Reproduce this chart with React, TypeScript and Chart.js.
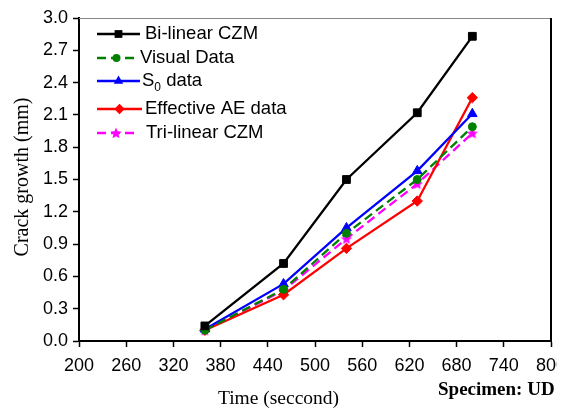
import React, { useEffect, useRef } from "react";
import { Chart, registerables } from "chart.js";

Chart.register(...registerables);

// ---- data ----
const timeSeconds = [360, 460, 540, 630, 700];
const bilinearCZM = [0.14, 0.72, 1.5, 2.12, 2.83];
const visualData = [0.1, 0.48, 1.0, 1.5, 1.99];
const s0Data = [0.11, 0.53, 1.05, 1.58, 2.11];
const effectiveAE = [0.1, 0.43, 0.86, 1.3, 2.26];
const trilinearCZM = [0.1, 0.47, 0.95, 1.46, 1.93];

const xMin = 200;
const xMax = 800;
const xStep = 60;
const yMin = 0;
const yMax = 3;
const yStep = 0.3;

const seriesNames = ["Bi-linear CZM", "Visual Data", "S0 data", "Effective AE data", "Tri-linear CZM"];
const xTitle = "Time (seccond)";
const yTitle = "Crack growth (mm)";
const specimenLabel = "Specimen: UD";

const SANS = "'Liberation Sans', Arial, sans-serif";
const SERIF = "'Liberation Serif', 'Times New Roman', serif";

function makeStar(size: number, color: string) {
  const c = document.createElement("canvas");
  c.width = size;
  c.height = size;
  const ctx = c.getContext("2d")!;
  ctx.beginPath();
  const cx = size / 2;
  const cy = size / 2 + 0.5;
  for (let i = 0; i < 10; i++) {
    const r = i % 2 === 0 ? size / 2 : (size / 2) * 0.45;
    const a = -Math.PI / 2 + (i * Math.PI) / 5;
    ctx.lineTo(cx + r * Math.cos(a), cy + r * Math.sin(a));
  }
  ctx.closePath();
  ctx.fillStyle = color;
  ctx.fill();
  return c;
}

export default function App() {
  const ref = useRef<HTMLCanvasElement | null>(null);

  useEffect(() => {
    if (!ref.current) return;
    const star = makeStar(12, "#ff00ff");
    const styles = [
      { color: "#000000", dash: [] as number[], marker: "rect", radius: 5.5 },
      { color: "#008000", dash: [9, 5], marker: "circle", radius: 4 },
      { color: "#0000ff", dash: [], marker: "triangle", radius: 5.5 },
      { color: "#ff0000", dash: [], marker: "rectRot", radius: 5.2 },
      { color: "#ff00ff", dash: [9, 5], marker: "star", radius: 6 },
    ];
    const values = [bilinearCZM, visualData, s0Data, effectiveAE, trilinearCZM];

    const datasets = values.map((vals, i) => ({
      label: seriesNames[i],
      data: timeSeconds.map((t, j) => ({ x: t, y: vals[j] })),
      borderColor: styles[i].color,
      backgroundColor: styles[i].color,
      borderWidth: 2.3,
      borderDash: styles[i].dash,
      pointStyle: styles[i].marker === "star" ? (star as any) : (styles[i].marker as any),
      pointRadius: styles[i].radius,
      pointBorderWidth: 1,
      pointBorderColor: styles[i].color,
      pointBackgroundColor: styles[i].color,
      tension: 0,
      order: i,
    }));

    const overlay = {
      id: "overlay",
      afterDraw(chart: any) {
        const ctx = chart.ctx as CanvasRenderingContext2D;
        const a = chart.chartArea;
        ctx.save();
        // frame top & right
        ctx.strokeStyle = "#888";
        ctx.lineWidth = 1;
        ctx.beginPath();
        ctx.moveTo(a.left, a.top + 0.5);
        ctx.lineTo(a.right, a.top + 0.5);
        ctx.stroke();
        ctx.strokeStyle = "#000";
        ctx.lineWidth = 2;
        ctx.beginPath();
        ctx.moveTo(a.right, a.top);
        ctx.lineTo(a.right, a.bottom);
        ctx.stroke();

        // legend
        const rowsY = [34, 58, 81, 109, 133];
        const lineEnd = [140, 136, 140, 142, 135];
        const textX = [145, 140, 142, 145, 146];
        const lx0 = 97;
        for (let i = 0; i < 5; i++) {
          const s = styles[i];
          const y = rowsY[i];
          ctx.strokeStyle = s.color;
          ctx.fillStyle = s.color;
          ctx.lineWidth = 2.3;
          ctx.setLineDash(s.dash);
          ctx.beginPath();
          ctx.moveTo(lx0, y);
          ctx.lineTo(lineEnd[i], y);
          ctx.stroke();
          ctx.setLineDash([]);
          const mx = (lx0 + lineEnd[i]) / 2;
          const r = s.radius;
          ctx.beginPath();
          if (s.marker === "rect") {
            const h = r * Math.SQRT1_2;
            ctx.rect(mx - h, y - h, 2 * h, 2 * h);
            ctx.fill();
          } else if (s.marker === "circle") {
            ctx.arc(mx, y, r, 0, Math.PI * 2);
            ctx.fill();
          } else if (s.marker === "triangle") {
            ctx.moveTo(mx, y - r);
            ctx.lineTo(mx + r * 0.866, y + r * 0.5);
            ctx.lineTo(mx - r * 0.866, y + r * 0.5);
            ctx.closePath();
            ctx.fill();
          } else if (s.marker === "rectRot") {
            ctx.moveTo(mx, y - r);
            ctx.lineTo(mx + r, y);
            ctx.lineTo(mx, y + r);
            ctx.lineTo(mx - r, y);
            ctx.closePath();
            ctx.fill();
          } else {
            ctx.drawImage(star, mx - star.width / 2, y - star.height / 2);
          }
          ctx.fillStyle = "#000";
          ctx.textBaseline = "middle";
          ctx.textAlign = "left";
          ctx.font = `18.5px ${SANS}`;
          if (i === 2) {
            ctx.fillText("S", textX[i], y);
            const w = ctx.measureText("S").width;
            ctx.font = `12px ${SANS}`;
            ctx.fillText("0", textX[i] + w, y + 7);
            const w0 = ctx.measureText("0").width;
            ctx.font = `18.5px ${SANS}`;
            ctx.fillText(" data", textX[i] + w + w0, y);
          } else {
            ctx.fillText(seriesNames[i], textX[i], y);
          }
        }

        // titles
        ctx.fillStyle = "#000";
        ctx.textBaseline = "alphabetic";
        ctx.textAlign = "center";
        ctx.font = `19.5px ${SERIF}`;
        ctx.fillText(xTitle, 278.5, 404);
        ctx.textAlign = "left";
        ctx.font = `bold 19px ${SERIF}`;
        ctx.fillText(specimenLabel, 438, 395);
        ctx.save();
        ctx.translate(23, 177);
        ctx.rotate(-Math.PI / 2);
        ctx.textAlign = "center";
        ctx.textBaseline = "middle";
        ctx.font = `20px ${SERIF}`;
        ctx.fillText(yTitle, 0, 0);
        ctx.restore();
        ctx.restore();
      },
    };

    const chart = new Chart(ref.current, {
      type: "line",
      data: { datasets: datasets as any },
      options: {
        animation: false,
        responsive: false,
        devicePixelRatio: 1,
        layout: { padding: { top: 18, right: 29, left: 0, bottom: 0 } },
        plugins: { legend: { display: false }, tooltip: { enabled: false } },
        scales: {
          x: {
            type: "linear",
            min: xMin,
            max: xMax,
            afterFit(scale: any) {
              scale.height = 67;
            },
            ticks: {
              stepSize: xStep,
              autoSkip: false,
              maxRotation: 0,
              minRotation: 0,
              padding: 8,
              color: "#000",
              font: { family: SANS, size: 18 },
              callback: (v: any) => String(v),
            },
            grid: {
              drawOnChartArea: false,
              drawTicks: true,
              tickLength: 6,
              tickWidth: 1.5,
              tickColor: "#000",
            },
            border: { display: true, color: "#000", width: 2 },
          },
          y: {
            type: "linear",
            min: yMin,
            max: yMax,
            afterFit(scale: any) {
              scale.width = 79;
            },
            ticks: {
              stepSize: yStep,
              autoSkip: false,
              padding: 5,
              color: "#000",
              font: { family: SANS, size: 18 },
              callback: (v: any) => Number(v).toFixed(1),
            },
            grid: {
              drawOnChartArea: false,
              drawTicks: true,
              tickLength: 6,
              tickWidth: 1.5,
              tickColor: "#000",
            },
            border: { display: true, color: "#000", width: 2 },
          },
        },
      },
      plugins: [overlay],
    });
    return () => chart.destroy();
  }, []);

  return (
    <div
      style={{
        position: "fixed",
        left: 0,
        top: 0,
        width: 561,
        height: 408,
        background: "#fff",
      }}
    >
      <div style={{ width: 557, height: 408, overflow: "hidden" }}>
        <canvas ref={ref} width={580} height={408} style={{ display: "block" }} />
      </div>
    </div>
  );
}
